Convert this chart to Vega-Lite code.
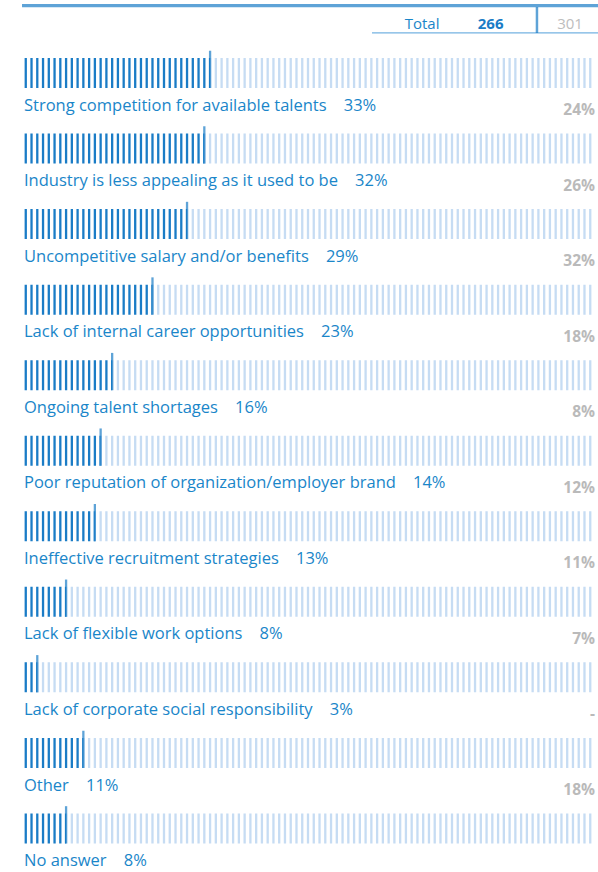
{
  "$schema": "https://vega.github.io/schema/vega-lite/v6.json",
  "width": 576,
  "height": 831,
  "autosize": {"type": "none"},
  "padding": {"left": 20, "right": 2, "top": 38, "bottom": 3},
  "config": {"view": {"stroke": null}, "text": {"font": "Open Sans"}},
  "datasets": {
    "items": [
      {"item": "Strong competition for available talents", "share": 33, "prev": 24},
      {"item": "Industry is less appealing as it used to be", "share": 32, "prev": 26},
      {"item": "Uncompetitive salary and/or benefits", "share": 29, "prev": 32},
      {"item": "Lack of internal career opportunities", "share": 23, "prev": 18},
      {"item": "Ongoing talent shortages", "share": 16, "prev": 8},
      {"item": "Poor reputation of organization/employer brand", "share": 14, "prev": 12},
      {"item": "Ineffective recruitment strategies", "share": 13, "prev": 11},
      {"item": "Lack of flexible work options", "share": 8, "prev": 7},
      {"item": "Lack of corporate social responsibility", "share": 3, "prev": "-"},
      {"item": "Other", "share": 11, "prev": 18},
      {"item": "No answer", "share": 8}
    ],
    "header": [{"label": "Total", "current": 266, "previous": 301}]
  },
  "data": {"name": "items"},
  "layer": [
    {
      "mark": {"type": "rule", "strokeWidth": 30, "strokeDash": [2.3, 3.46], "strokeDashOffset": 1.15, "strokeCap": "butt", "color": "#c6dcf3"},
      "encoding": {
        "x": {"field": "share", "type": "quantitative", "scale": {"domain": [0, 100], "nice": false, "zero": true}, "axis": null},
        "x2": {"datum": 99.3},
        "y": {"field": "item", "type": "nominal", "bandPosition": 0.4633, "sort": null, "scale": {"type": "band", "paddingInner": 0, "paddingOuter": 0}, "axis": null}
      }
    },
    {
      "mark": {"type": "rule", "strokeWidth": 30, "strokeDash": [2.3, 3.46], "strokeDashOffset": 1.15, "strokeCap": "butt", "color": "#1a7cc6"},
      "encoding": {
        "x": {"field": "share", "type": "quantitative", "axis": null},
        "x2": {"datum": 0.2},
        "y": {"field": "item", "type": "nominal", "bandPosition": 0.4633, "sort": null, "axis": null}
      }
    },
    {
      "mark": {"type": "tick", "thickness": 2.3, "size": 37.3, "yOffset": -6.4, "color": "#1a7cc6", "orient": "vertical"},
      "encoding": {
        "x": {"field": "share", "type": "quantitative", "axis": null},
        "y": {"field": "item", "type": "nominal", "sort": null, "axis": null}
      }
    },
    {
      "transform": [{"calculate": "datum.item + '\u00a0\u00a0\u00a0\u00a0' + datum.share + '%'", "as": "caption"}],
      "mark": {"type": "text", "align": "left", "baseline": "alphabetic", "dx": 4, "fontSize": 16.5, "color": "#1a86c9"},
      "encoding": {
        "x": {"datum": 0, "type": "quantitative", "axis": null},
        "y": {"field": "item", "type": "nominal", "bandPosition": 0.962, "sort": null, "axis": null},
        "text": {"field": "caption", "type": "nominal"}
      }
    },
    {
      "transform": [{"calculate": "isNumber(datum.prev) ? datum.prev + '%' : (isValid(datum.prev) ? datum.prev : '')", "as": "prevLabel"}],
      "mark": {"type": "text", "align": "right", "baseline": "alphabetic", "dx": -1, "fontSize": 15.5, "fontWeight": "bold", "color": "#bababa"},
      "encoding": {
        "x": {"datum": 100, "type": "quantitative", "axis": null},
        "y": {"field": "item", "type": "nominal", "bandPosition": 1.02, "sort": null, "axis": null},
        "text": {"field": "prevLabel", "type": "nominal"}
      }
    },
    {
      "data": {"name": "header"},
      "mark": {"type": "tick", "orient": "horizontal", "thickness": 3.3, "size": 576, "yOffset": -70.05, "color": "#1a7cc6"},
      "encoding": {
        "x": {"datum": 50.35, "type": "quantitative", "axis": null},
        "y": {"datum": "Strong competition for available talents", "type": "nominal", "axis": null}
      }
    },
    {
      "data": {"name": "header"},
      "mark": {"type": "tick", "orient": "horizontal", "thickness": 1.3, "size": 226, "yOffset": -42.8, "color": "#3a93d5"},
      "encoding": {
        "x": {"datum": 80.73, "type": "quantitative", "axis": null},
        "y": {"datum": "Strong competition for available talents", "type": "nominal", "axis": null}
      }
    },
    {
      "data": {"name": "header"},
      "mark": {"type": "tick", "orient": "vertical", "thickness": 2.5, "size": 26, "yOffset": -55.8, "color": "#1a7cc6"},
      "encoding": {
        "x": {"datum": 89.75, "type": "quantitative", "axis": null},
        "y": {"datum": "Strong competition for available talents", "type": "nominal", "axis": null}
      }
    },
    {
      "data": {"name": "header"},
      "mark": {"type": "text", "align": "center", "baseline": "alphabetic", "fontSize": 15, "color": "#1a86c9"},
      "encoding": {
        "x": {"datum": 69.8, "type": "quantitative", "axis": null},
        "y": {"datum": "Strong competition for available talents", "type": "nominal", "bandPosition": -0.12, "axis": null},
        "text": {"field": "label", "type": "nominal"}
      }
    },
    {
      "data": {"name": "header"},
      "mark": {"type": "text", "align": "center", "baseline": "alphabetic", "fontSize": 15, "fontWeight": "bold", "color": "#1a7cc6"},
      "encoding": {
        "x": {"datum": 81.7, "type": "quantitative", "axis": null},
        "y": {"datum": "Strong competition for available talents", "type": "nominal", "bandPosition": -0.12, "axis": null},
        "text": {"field": "current", "type": "nominal"}
      }
    },
    {
      "data": {"name": "header"},
      "mark": {"type": "text", "align": "center", "baseline": "alphabetic", "fontSize": 15, "color": "#bdbdbd"},
      "encoding": {
        "x": {"datum": 95.5, "type": "quantitative", "axis": null},
        "y": {"datum": "Strong competition for available talents", "type": "nominal", "bandPosition": -0.12, "axis": null},
        "text": {"field": "previous", "type": "nominal"}
      }
    }
  ]
}
